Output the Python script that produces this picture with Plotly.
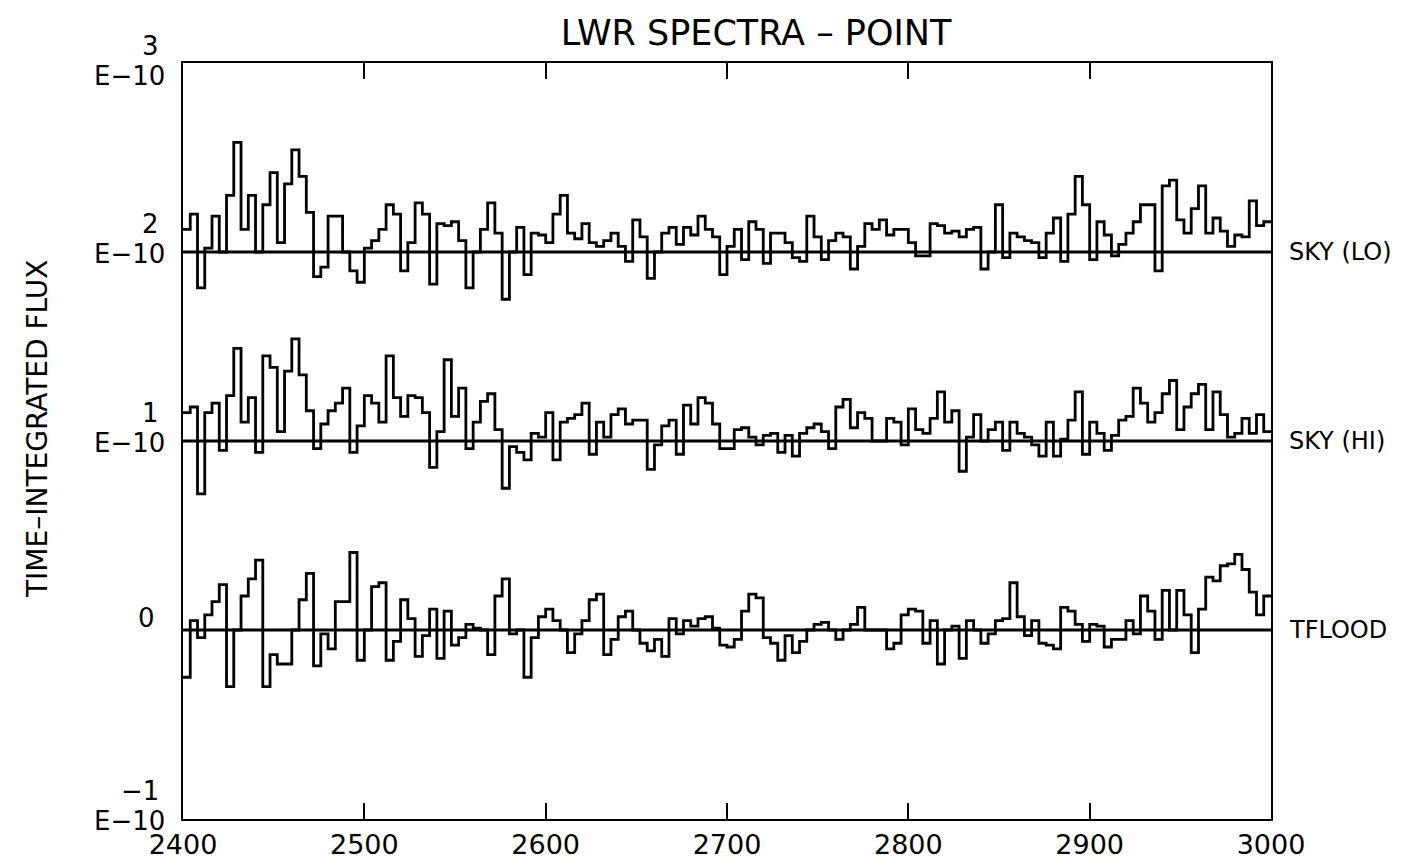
import numpy as np
import plotly.graph_objects as go

# ---------------- data ----------------
wl_start, wl_end, bin_width = 2400, 3000, 4

sky_lo = [0.12, 0.2, -0.19, 0.02, 0.19, 0.0, 0.30, 0.58, 0.12, 0.3,
          0.0, 0.25, 0.42, 0.05, 0.36, 0.54, 0.4, 0.21, -0.13, -0.08,
          0.19, 0.19, 0.0, -0.1, -0.16, 0.02, 0.06, 0.12, 0.25, 0.2,
          -0.1, 0.05, 0.26, 0.2, -0.17, 0.15, 0.14, 0.16, 0.06, -0.19,
          0.0, 0.12, 0.26, 0.1, -0.25, 0.0, 0.13, -0.12, 0.1, 0.09,
          0.05, 0.2, 0.3, 0.1, 0.07, 0.15, 0.05, 0.03, 0.06, 0.1,
          0.03, -0.05, 0.17, 0.08, -0.14, 0.0, 0.1, 0.13, 0.04, 0.13,
          0.09, 0.19, 0.12, 0.08, -0.12, 0.03, 0.12, -0.04, 0.16, 0.12,
          -0.06, 0.1, 0.1, 0.05, -0.03, -0.05, 0.19, 0.08, -0.04, 0.06,
          0.1, 0.08, -0.09, 0.03, 0.15, 0.12, 0.17, 0.09,
          0.12, 0.12, 0.05, -0.02, -0.02, 0.15, 0.14, 0.1, 0.11, 0.08,
          0.12, 0.13, -0.09, 0.0, 0.25, -0.03, 0.1, 0.08, 0.06, 0.05,
          -0.03, 0.1, 0.18, -0.05, 0.2, 0.4, 0.25, -0.04, 0.16, 0.09,
          -0.02, 0.04, 0.1, 0.16, 0.25, 0.25, -0.1, 0.35, 0.38, 0.17,
          0.1, 0.23, 0.35, 0.1, 0.18, 0.11, 0.03, 0.09, 0.08, 0.27,
          0.14, 0.16]

sky_hi = [0.15, 0.18, -0.28, 0.15, 0.2, -0.05, 0.24, 0.49, 0.1, 0.23,
          -0.06, 0.45, 0.39, 0.05, 0.37, 0.54, 0.35, 0.16, -0.04, 0.09,
          0.16, 0.2, 0.28, -0.06, 0.08, 0.24, 0.2, 0.1, 0.45, 0.23,
          0.13, 0.24, 0.23, 0.15, -0.14, 0.05, 0.43, 0.13, 0.28, -0.04,
          0.1, 0.21, 0.25, 0.06, -0.25, -0.03, -0.06, -0.1, 0.04, 0.02,
          0.15, -0.1, 0.1, 0.12, 0.14, 0.2, -0.07, 0.1, 0.02, 0.14,
          0.17, 0.09, 0.11, 0.11, -0.15, -0.02, 0.08, 0.11, -0.07, 0.19,
          0.09, 0.23, 0.2, 0.09, -0.04, -0.04, 0.06, 0.07, 0.02, -0.02,
          0.03, 0.04, -0.06, 0.03, -0.08, 0.04, 0.07, 0.09, 0.05, -0.04,
          0.18, 0.22, 0.07, 0.15, 0.12, 0.0, 0.0, 0.12,
          0.1, -0.02, 0.17, 0.06, 0.04, 0.12, 0.26, 0.1, 0.16, -0.16,
          0.02, 0.14, 0.0, 0.06, 0.1, -0.05, 0.1, 0.04, 0.02, -0.02,
          -0.08, 0.1, -0.08, 0.01, 0.11, 0.26, -0.07, 0.1, 0.04, -0.05,
          0.03, 0.11, 0.13, 0.28, 0.2, 0.1, 0.15, 0.25, 0.32, 0.06,
          0.18, 0.25, 0.3, 0.06, 0.26, 0.14, 0.02, 0.04, 0.12, 0.04,
          0.14, 0.05]

tflood = [-0.25, 0.05, -0.04, 0.08, 0.15, 0.24, -0.3, 0.0, 0.18, 0.27,
          0.37, -0.3, -0.13, -0.18, -0.18, 0.0, 0.16, 0.3, -0.19, -0.02,
          -0.1, 0.15, 0.15, 0.41, -0.16, 0.0, 0.23, 0.25, -0.16, -0.06,
          0.16, 0.06, -0.14, -0.03, 0.11, -0.15, 0.1, -0.08, -0.04, 0.03,
          0.01, 0.0, -0.13, 0.18, 0.27, -0.02, 0.0, -0.25, -0.04, 0.07,
          0.11, 0.05, 0.0, -0.12, -0.02, 0.05, 0.16, 0.19, -0.13, -0.05,
          0.07, 0.1, 0.0, -0.07, -0.11, -0.05, -0.14, 0.06, -0.02, 0.05,
          0.02, 0.06, 0.07, 0.01, -0.08, -0.09, -0.05, 0.1, 0.19, 0.17,
          -0.04, -0.07, -0.16, -0.03, -0.12, -0.06, 0.0, 0.03, 0.04, 0.0,
          -0.05, 0.0, 0.03, 0.12, 0.0, 0.0, 0.0, -0.1,
          -0.07, 0.08, 0.11, 0.1, -0.07, 0.05, -0.18, 0.0, 0.02, -0.15,
          0.05, 0.0, -0.07, -0.02, 0.05, 0.06, 0.25, 0.07, -0.03, 0.05,
          -0.07, -0.08, -0.1, 0.12, 0.1, 0.03, -0.06, 0.03, 0.02, -0.09,
          -0.05, -0.05, 0.05, -0.02, 0.18, 0.1, -0.05, 0.21, 0.0, 0.21,
          0.08, -0.12, 0.11, 0.28, 0.26, 0.34, 0.35, 0.4, 0.32, 0.2,
          0.08, 0.18]

series_names = ["SKY (LO)", "SKY (HI)", "TFLOOD"]
series_offsets = [2, 1, 0]
series_values = [sky_lo, sky_hi, tflood]

x_ticks = [2400, 2500, 2600, 2700, 2800, 2900, 3000]
y_ticks = [3, 2, 1, 0, -1]
y_tick_mantissa = ["3", "2", "1", "0", "\u22121"]
y_tick_exponent = ["E\u221210", "E\u221210", "E\u221210", "", "E\u221210"]

title_text = "LWR SPECTRA \u2013 POINT"
y_title = "TIME\u2013INTEGRATED FLUX"

# ---------------- figure ----------------
FONT = "DejaVu Sans"
edges = np.arange(wl_start, wl_end + bin_width, bin_width)

fig = go.Figure()
for name, off, vals in zip(series_names, series_offsets, series_values):
    vals = np.asarray(vals, dtype=float)
    assert len(vals) == len(edges) - 1, (name, len(vals))
    yy = np.concatenate([vals, vals[-1:]]) + off
    fig.add_trace(go.Scatter(x=edges, y=yy, mode="lines", line_shape="hv",
                             line=dict(color="black", width=2.8),
                             showlegend=False, hoverinfo="skip"))
    fig.add_trace(go.Scatter(x=[wl_start, wl_end], y=[off, off], mode="lines",
                             line=dict(color="black", width=3),
                             showlegend=False, hoverinfo="skip"))

annotations = []
for name, off in zip(series_names, series_offsets):
    annotations.append(dict(x=wl_end, y=off, xref="x", yref="y", text=name,
                            showarrow=False, xanchor="left", yanchor="middle",
                            xshift=16, font=dict(family=FONT, size=24, color="black")))

for v, m, e in zip(y_ticks, y_tick_mantissa, y_tick_exponent):
    extra = -11 if v == max(y_ticks) else 0
    if e:
        annotations.append(dict(x=0, y=v, xref="paper", yref="y", text=e,
                                showarrow=False, xanchor="right", yanchor="middle",
                                xshift=-16, yshift=-2 + extra,
                                font=dict(family=FONT, size=26, color="black")))
        annotations.append(dict(x=0, y=v, xref="paper", yref="y", text=m,
                                showarrow=False, xanchor="right", yanchor="middle",
                                xshift=-22, yshift=28 + extra,
                                font=dict(family=FONT, size=26, color="black")))
    else:
        annotations.append(dict(x=0, y=v, xref="paper", yref="y", text=m,
                                showarrow=False, xanchor="right", yanchor="middle",
                                xshift=-26, yshift=12,
                                font=dict(family=FONT, size=26, color="black")))

annotations.append(dict(x=0, y=0.5, xref="paper", yref="paper", text=y_title,
                        showarrow=False, textangle=-90, xanchor="center",
                        yanchor="middle", xshift=-146, yshift=12,
                        font=dict(family=FONT, size=28, color="black")))

# page body adds an 8 px offset; margins compensate
fig.update_layout(
    width=1417, height=865,
    margin=dict(l=175, r=154, t=55, b=54),
    paper_bgcolor="white", plot_bgcolor="white",
    title=dict(text=title_text, x=748 / 1417, xanchor="center",
               y=1 - 25 / 865, yanchor="middle", yref="container",
               font=dict(family=FONT, size=35, color="black")),
    annotations=annotations,
    xaxis=dict(range=[wl_start, wl_end], tickvals=x_ticks,
               ticktext=[str(t) for t in x_ticks],
               showgrid=False, zeroline=False, showline=True, linecolor="black",
               linewidth=2.2, mirror="ticks", ticks="inside", ticklen=16,
               tickwidth=1.6, tickcolor="black",
               tickfont=dict(family=FONT, size=27, color="black")),
    yaxis=dict(range=[-1, 3], showgrid=False, zeroline=False, showline=True,
               linecolor="black", linewidth=2.2, mirror=True,
               showticklabels=False, ticks=""),
)

fig.write_html("out.html")
